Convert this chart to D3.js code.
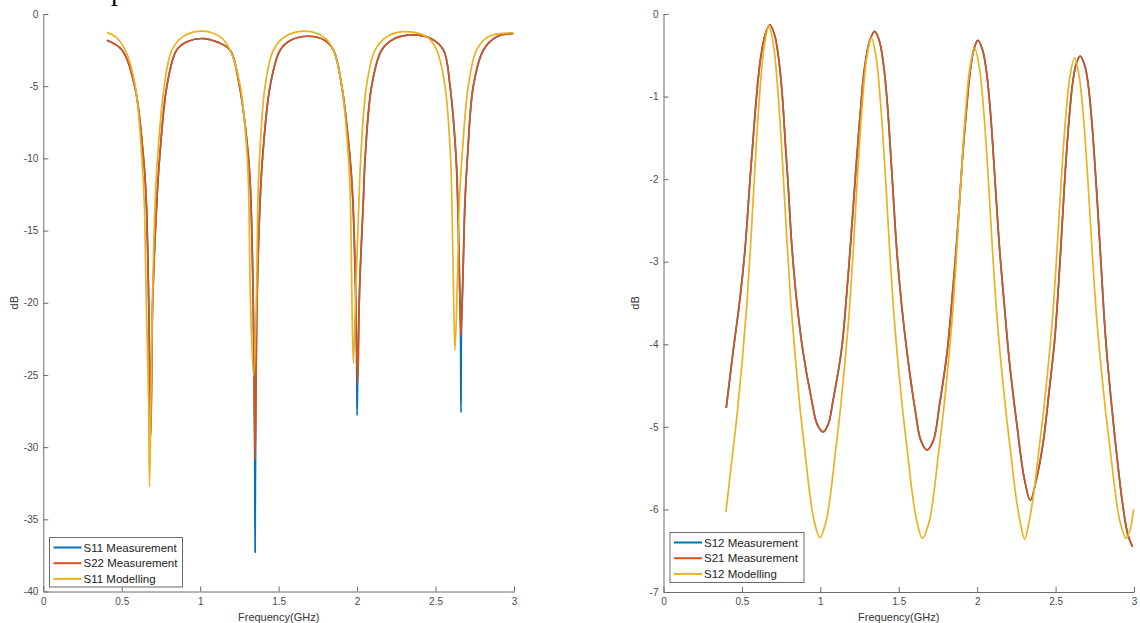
<!DOCTYPE html>
<html>
<head>
<meta charset="utf-8">
<script src="https://cdn.jsdelivr.net/npm/d3@7"></script>
<style>
  html, body { margin: 0; padding: 0; background: #fff; }
  svg { display: block; }
  text { font-family: "Liberation Sans", Arial, Helvetica, sans-serif; }
</style>
</head>
<body>
<svg id="chart" width="1140" height="623"></svg>
<script>
// ---- Reflection (left panel): [frequency GHz, dB] ----
const s11Meas = [
  [0.405,-1.82],[0.501,-2.49],[0.582,-4.97],[0.639,-10.0],[0.656,-12.9],[0.672,-20],
  [0.685,-29.2],[0.697,-20],[0.724,-12.9],[0.741,-10.0],[0.788,-4.97],[0.850,-2.49],
  [0.920,-1.9],[1.020,-1.70],[1.110,-1.95],[1.190,-2.49],[1.250,-4.97],[1.308,-10.0],
  [1.323,-12.9],[1.338,-20],[1.347,-30],[1.350,-37.3],[1.353,-30],[1.362,-20],[1.382,-12.9],
  [1.397,-10.0],[1.446,-4.97],[1.510,-2.49],[1.580,-1.8],[1.690,-1.54],[1.790,-1.8],
  [1.849,-2.49],[1.902,-4.97],[1.955,-10.0],[1.973,-12.9],[1.990,-19],[1.998,-25],
  [2.000,-27.8],[2.004,-25],[2.016,-19],[2.040,-12.9],[2.051,-10.0],[2.093,-4.97],
  [2.157,-2.49],[2.240,-1.7],[2.359,-1.45],[2.470,-1.7],[2.550,-2.49],[2.592,-4.97],
  [2.631,-10.0],[2.641,-12.9],[2.652,-18],[2.659,-22],[2.662,-27.6],[2.665,-22],
  [2.675,-18],[2.688,-12.9],[2.703,-10.0],[2.741,-4.97],[2.805,-2.49],[2.890,-1.57],
  [2.996,-1.35]
];
const s22Meas = [
  [0.405,-1.82],[0.501,-2.49],[0.582,-4.97],[0.639,-10.0],[0.656,-12.9],[0.672,-20],
  [0.685,-29.0],[0.697,-20],[0.724,-12.9],[0.741,-10.0],[0.788,-4.97],[0.850,-2.49],
  [0.920,-1.9],[1.020,-1.70],[1.110,-1.95],[1.190,-2.49],[1.250,-4.97],[1.308,-10.0],
  [1.323,-12.9],[1.338,-20],[1.350,-30.9],[1.362,-20],[1.382,-12.9],[1.397,-10.0],
  [1.446,-4.97],[1.510,-2.49],[1.580,-1.8],[1.690,-1.54],[1.790,-1.8],[1.849,-2.49],
  [1.902,-4.97],[1.955,-10.0],[1.973,-12.9],[1.990,-19],[2.004,-25.6],[2.016,-19],
  [2.040,-12.9],[2.051,-10.0],[2.093,-4.97],[2.157,-2.49],[2.240,-1.7],[2.359,-1.45],
  [2.470,-1.7],[2.550,-2.49],[2.592,-4.97],[2.631,-10.0],[2.641,-12.9],[2.652,-18],
  [2.662,-22.3],[2.675,-18],[2.688,-12.9],[2.703,-10.0],[2.741,-4.97],[2.805,-2.49],
  [2.890,-1.57],[2.996,-1.35]
];
const s11Model = [
  [0.405,-1.27],[0.459,-1.57],[0.522,-2.49],[0.586,-4.97],[0.628,-10.0],[0.643,-12.9],
  [0.656,-19.8],[0.671,-26.7],[0.677,-32.75],[0.686,-26.7],[0.696,-19.8],[0.713,-12.9],
  [0.728,-10.0],[0.771,-4.97],[0.820,-2.49],[0.890,-1.57],[1.000,-1.18],[1.127,-1.57],
  [1.190,-2.49],[1.255,-4.97],[1.300,-10.0],[1.310,-12.9],[1.320,-19.8],[1.340,-25.1],
  [1.358,-19.8],[1.368,-12.9],[1.378,-10.0],[1.414,-4.97],[1.467,-2.49],[1.540,-1.57],
  [1.658,-1.18],[1.785,-1.57],[1.849,-2.49],[1.902,-4.97],[1.945,-10.0],[1.957,-12.9],
  [1.966,-19],[1.976,-24.2],[1.992,-19],[2.012,-12.9],[2.023,-10.0],[2.060,-4.97],
  [2.115,-2.49],[2.190,-1.57],[2.295,-1.22],[2.444,-1.57],[2.507,-2.49],[2.560,-4.97],
  [2.596,-10.0],[2.604,-12.9],[2.614,-19],[2.624,-23.3],[2.638,-19],[2.652,-12.9],
  [2.668,-10.0],[2.709,-4.97],[2.762,-2.49],[2.836,-1.57],[2.996,-1.30]
];

// ---- Transmission (right panel): [frequency GHz, dB] ----
const s12Meas = [
  [0.400,-4.77],[0.445,-4.07],[0.487,-3.46],[0.522,-2.8],[0.550,-2.05],[0.568,-1.6],
  [0.593,-1.0],[0.618,-0.55],[0.648,-0.25],[0.678,-0.13],[0.708,-0.25],[0.735,-0.55],
  [0.758,-1.0],[0.778,-1.6],[0.794,-2.05],[0.818,-2.8],[0.848,-3.45],[0.888,-4.07],
  [0.944,-4.67],[0.980,-4.97],[1.018,-5.06],[1.050,-4.97],[1.082,-4.67],[1.135,-4.07],
  [1.165,-3.46],[1.192,-2.8],[1.215,-2.2],[1.232,-1.75],[1.255,-1.2],[1.280,-0.68],
  [1.315,-0.32],[1.347,-0.21],[1.377,-0.33],[1.404,-0.63],[1.427,-1.08],[1.447,-1.65],
  [1.462,-2.1],[1.487,-2.85],[1.517,-3.5],[1.553,-4.1],[1.605,-4.8],[1.640,-5.16],
  [1.680,-5.28],[1.720,-5.17],[1.761,-4.72],[1.810,-4.07],[1.840,-3.45],[1.868,-2.8],
  [1.892,-2.15],[1.908,-1.7],[1.932,-1.15],[1.955,-0.7],[1.980,-0.42],[2.005,-0.32],
  [2.035,-0.44],[2.062,-0.74],[2.085,-1.2],[2.105,-1.75],[2.120,-2.2],[2.145,-2.9],
  [2.172,-3.5],[2.205,-4.2],[2.255,-5.0],[2.300,-5.62],[2.339,-5.89],[2.377,-5.64],
  [2.420,-5.2],[2.460,-4.55],[2.494,-3.95],[2.520,-3.25],[2.545,-2.45],[2.562,-1.9],
  [2.585,-1.3],[2.608,-0.85],[2.632,-0.6],[2.657,-0.51],[2.687,-0.63],[2.712,-0.92],
  [2.735,-1.4],[2.755,-1.95],[2.770,-2.4],[2.792,-3.1],[2.818,-3.9],[2.850,-4.6],
  [2.885,-5.25],[2.925,-5.9],[2.960,-6.3],[2.990,-6.45]
];
const s21Meas = [
  [0.400,-4.77],[0.445,-4.07],[0.487,-3.46],[0.522,-2.8],[0.550,-2.05],[0.568,-1.6],
  [0.593,-1.0],[0.618,-0.55],[0.648,-0.25],[0.678,-0.13],[0.708,-0.25],[0.735,-0.55],
  [0.758,-1.0],[0.778,-1.6],[0.794,-2.05],[0.818,-2.8],[0.848,-3.45],[0.888,-4.07],
  [0.944,-4.67],[0.980,-4.97],[1.018,-5.06],[1.050,-4.97],[1.082,-4.67],[1.135,-4.07],
  [1.165,-3.46],[1.192,-2.8],[1.215,-2.2],[1.232,-1.75],[1.255,-1.2],[1.280,-0.68],
  [1.315,-0.32],[1.347,-0.21],[1.377,-0.33],[1.404,-0.63],[1.427,-1.08],[1.447,-1.65],
  [1.462,-2.1],[1.487,-2.85],[1.517,-3.5],[1.553,-4.1],[1.605,-4.8],[1.640,-5.16],
  [1.680,-5.28],[1.720,-5.17],[1.761,-4.72],[1.810,-4.07],[1.840,-3.45],[1.868,-2.8],
  [1.892,-2.15],[1.908,-1.7],[1.932,-1.15],[1.955,-0.7],[1.980,-0.42],[2.005,-0.32],
  [2.035,-0.44],[2.062,-0.74],[2.085,-1.2],[2.105,-1.75],[2.120,-2.2],[2.145,-2.9],
  [2.172,-3.5],[2.205,-4.2],[2.255,-5.0],[2.300,-5.62],[2.339,-5.89],[2.377,-5.64],
  [2.420,-5.2],[2.460,-4.55],[2.494,-3.95],[2.520,-3.25],[2.545,-2.45],[2.562,-1.9],
  [2.585,-1.3],[2.608,-0.85],[2.632,-0.6],[2.657,-0.51],[2.687,-0.63],[2.712,-0.92],
  [2.735,-1.4],[2.755,-1.95],[2.770,-2.4],[2.792,-3.1],[2.818,-3.9],[2.850,-4.6],
  [2.885,-5.25],[2.925,-5.9],[2.960,-6.3],[2.990,-6.45]
];
const s12Model = [
  [0.398,-6.03],[0.412,-5.8],[0.442,-5.3],[0.472,-4.8],[0.502,-4.2],[0.532,-3.5],
  [0.557,-2.75],[0.582,-1.9],[0.612,-1.0],[0.642,-0.39],[0.672,-0.14],[0.702,-0.39],
  [0.732,-1.0],[0.762,-1.9],[0.787,-2.75],[0.812,-3.5],[0.842,-4.2],[0.872,-4.8],
  [0.902,-5.3],[0.932,-5.8],[0.962,-6.15],[0.997,-6.34],[1.036,-6.15],[1.066,-5.8],
  [1.096,-5.31],[1.126,-4.82],[1.156,-4.24],[1.186,-3.56],[1.211,-2.83],[1.236,-2.0],
  [1.266,-1.13],[1.296,-0.53],[1.326,-0.29],[1.356,-0.53],[1.386,-1.13],[1.416,-2.0],
  [1.441,-2.83],[1.466,-3.56],[1.496,-4.24],[1.526,-4.82],[1.556,-5.31],[1.586,-5.8],
  [1.616,-6.15],[1.651,-6.35],[1.694,-6.15],[1.724,-5.8],[1.754,-5.31],[1.784,-4.83],
  [1.814,-4.27],[1.844,-3.61],[1.869,-2.90],[1.894,-2.09],[1.924,-1.23],[1.954,-0.65],
  [1.984,-0.41],[2.014,-0.65],[2.044,-1.23],[2.074,-2.09],[2.099,-2.90],[2.124,-3.61],
  [2.154,-4.27],[2.184,-4.83],[2.214,-5.31],[2.244,-5.8],[2.274,-6.15],[2.303,-6.36],
  [2.331,-6.15],[2.361,-5.8],[2.391,-5.32],[2.421,-4.85],[2.451,-4.30],[2.481,-3.66],
  [2.506,-2.96],[2.531,-2.17],[2.561,-1.33],[2.591,-0.76],[2.621,-0.53],[2.651,-0.76],
  [2.681,-1.33],[2.711,-2.17],[2.736,-2.96],[2.761,-3.66],[2.791,-4.30],[2.821,-4.85],
  [2.851,-5.32],[2.881,-5.8],[2.911,-6.15],[2.950,-6.35],[2.975,-6.25],[2.997,-6.0]
];

// ---- Axis ticks and legend labels ----
const freqTicks = [0, 0.5, 1, 1.5, 2, 2.5, 3];
const reflTicks = [0, -5, -10, -15, -20, -25, -30, -35, -40];
const transTicks = [0, -1, -2, -3, -4, -5, -6, -7];
const reflLabels = ["S11 Measurement", "S22 Measurement", "S11 Modelling"];
const transLabels = ["S12 Measurement", "S21 Measurement", "S12 Modelling"];
const seriesColors = ["#0072BD", "#D95319", "#EDB120"];

const svg = d3.select("#chart");

// descender of a heading glyph sitting on the top edge
svg.append("text")
  .attr("x", 111).attr("y", 0)
  .style("font-family", "'Liberation Serif', 'DejaVu Serif', serif")
  .style("font-size", "28px").attr("fill", "#000")
  .text("p");

function drawPanel(cfg) {
  const x = d3.scaleLinear().domain([0, 3]).range([cfg.left, cfg.right]);
  const y = d3.scaleLinear().domain(cfg.yDomain).range([cfg.bottom, cfg.top]);
  const g = svg.append("g");

  const xAxis = d3.axisBottom(x).tickValues(freqTicks)
    .tickSizeInner(-5).tickSizeOuter(0).tickPadding(6)
    .tickFormat(d => String(d));
  const yAxis = d3.axisLeft(y).tickValues(cfg.yTicks)
    .tickSizeInner(-5).tickSizeOuter(0).tickPadding(5)
    .tickFormat(d => String(d));

  const gx = g.append("g").attr("transform", `translate(0,${cfg.bottom})`).call(xAxis);
  const gy = g.append("g").attr("transform", `translate(${cfg.left},0)`).call(yAxis);
  [gx, gy].forEach(a => {
    a.select(".domain").attr("stroke", "#6b6b6b").attr("stroke-width", 1);
    a.selectAll(".tick line").attr("stroke", "#6b6b6b");
    a.selectAll(".tick text").attr("fill", "#4a4a4a")
      .style("font-size", "10px")
      .style("font-family", "'Liberation Sans', Arial, sans-serif");
  });

  const line = d3.line()
    .x(d => x(d[0])).y(d => y(d[1]))
    .curve(d3.curveCatmullRom.alpha(0.5));

  cfg.series.forEach((s, i) => {
    g.append("path")
      .datum(s)
      .attr("fill", "none")
      .attr("stroke", seriesColors[i])
      .attr("stroke-width", 1.7)
      .attr("stroke-linejoin", "round")
      .attr("d", line);
  });

  // axis titles
  g.append("text")
    .attr("x", (cfg.left + cfg.right) / 2).attr("y", 621)
    .attr("text-anchor", "middle").attr("fill", "#333")
    .style("font-size", "11px").text("Frequency(GHz)");
  g.append("text")
    .attr("transform", `translate(${cfg.left - 25},${(cfg.top + cfg.bottom) / 2}) rotate(-90)`)
    .attr("text-anchor", "middle").attr("fill", "#333")
    .style("font-size", "11px").text("dB");

  // legend
  const lg = g.append("g");
  lg.append("rect")
    .attr("x", cfg.legend.x).attr("y", cfg.legend.y)
    .attr("width", cfg.legend.w).attr("height", cfg.legend.h)
    .attr("fill", "#fff").attr("stroke", "#6b6b6b").attr("stroke-width", 1);
  cfg.labels.forEach((lab, i) => {
    const yy = cfg.legend.y + 10 + i * 15.7;
    lg.append("line")
      .attr("x1", cfg.legend.x + 4).attr("x2", cfg.legend.x + 32)
      .attr("y1", yy).attr("y2", yy)
      .attr("stroke", seriesColors[i]).attr("stroke-width", 2);
    lg.append("text")
      .attr("x", cfg.legend.x + 34).attr("y", yy)
      .attr("dy", "0.35em").attr("fill", "#222")
      .style("font-size", "11.5px").text(lab);
  });
}

drawPanel({
  left: 43.3, right: 514, top: 14, bottom: 591.5,
  yDomain: [-40, 0], yTicks: reflTicks,
  series: [s11Meas, s22Meas, s11Model], labels: reflLabels,
  legend: { x: 49.5, y: 537.5, w: 133, h: 49.5 }
});

drawPanel({
  left: 663.5, right: 1134, top: 14, bottom: 592,
  yDomain: [-7, 0], yTicks: transTicks,
  series: [s12Meas, s21Meas, s12Model], labels: transLabels,
  legend: { x: 670, y: 532.5, w: 134, h: 50 }
});
</script>
</body>
</html>
